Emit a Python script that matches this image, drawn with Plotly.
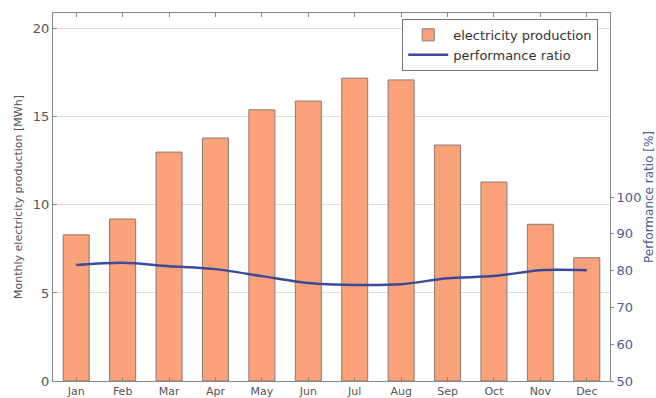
import plotly.graph_objects as go

months = ["Jan", "Feb", "Mar", "Apr", "May", "Jun", "Jul", "Aug", "Sep", "Oct", "Nov", "Dec"]
production = [8.3, 9.2, 13.0, 13.8, 15.4, 15.9, 17.2, 17.1, 13.4, 11.3, 8.9, 7.0]
perf_ratio = [81.5, 82.1, 81.2, 80.4, 78.5, 76.6, 76.1, 76.3, 77.9, 78.5, 80.1, 80.1]
left_ticks = [0, 5, 10, 15, 20]
right_ticks = [50, 60, 70, 80, 90, 100]

FONT = "DejaVu Sans"
GREY = "#555555"
BLUE = "#3b4b99"
AXBLUE = "#4a5d8c"

fig = go.Figure()
fig.add_trace(go.Bar(
    x=months, y=production, name="electricity production",
    marker=dict(color="#fba27a", line=dict(color="#8a7a70", width=1)),
    width=0.56,
))
fig.add_trace(go.Scatter(
    x=months, y=perf_ratio, name="performance ratio", yaxis="y2",
    mode="lines", line=dict(color=BLUE, width=2.5, shape="spline", smoothing=0.8),
))

fig.update_layout(
    width=656, height=398,
    margin=dict(l=53, r=46, t=13, b=17),
    paper_bgcolor="white", plot_bgcolor="white",
    font=dict(family=FONT, size=12, color=GREY),
    showlegend=True,
    legend=dict(
        x=0.627, y=0.984, xanchor="left", yanchor="top",
        bordercolor="#777777", borderwidth=1, bgcolor="white",
        font=dict(family=FONT, size=13, color="#333333"),
        itemwidth=40, tracegroupgap=2,
    ),
    xaxis=dict(
        range=[-0.5, 11.5], showgrid=False, showline=True, mirror="ticks",
        linecolor="#888888", linewidth=1, ticks="inside", ticklen=4,
        tickcolor="#888888", tickfont=dict(size=11, color=GREY),
        ticklabelstandoff=0, automargin=False,
    ),
    yaxis=dict(
        range=[0, 20.9], tickvals=left_ticks, showgrid=True,
        gridcolor="#dddddd", gridwidth=1, showline=True, mirror=True,
        linecolor="#888888", linewidth=1, ticks="inside", ticklen=4,
        tickcolor="#888888", tickfont=dict(size=13, color=GREY),
        title=dict(text="Monthly electricity production [MWh]",
                   font=dict(size=11, color=GREY), standoff=8),
        zeroline=False, automargin=False,
    ),
    yaxis2=dict(
        overlaying="y", side="right", range=[50, 150], tickvals=right_ticks,
        showgrid=False, showline=False, ticks="outside", ticklen=3,
        tickcolor="#888888", tickfont=dict(size=13, color=AXBLUE),
        title=dict(text="Performance ratio [%]", font=dict(size=12, color=AXBLUE),
                   standoff=6),
        zeroline=False, automargin=False,
    ),
    bargap=0.44,
)

fig.write_html("out.html")
